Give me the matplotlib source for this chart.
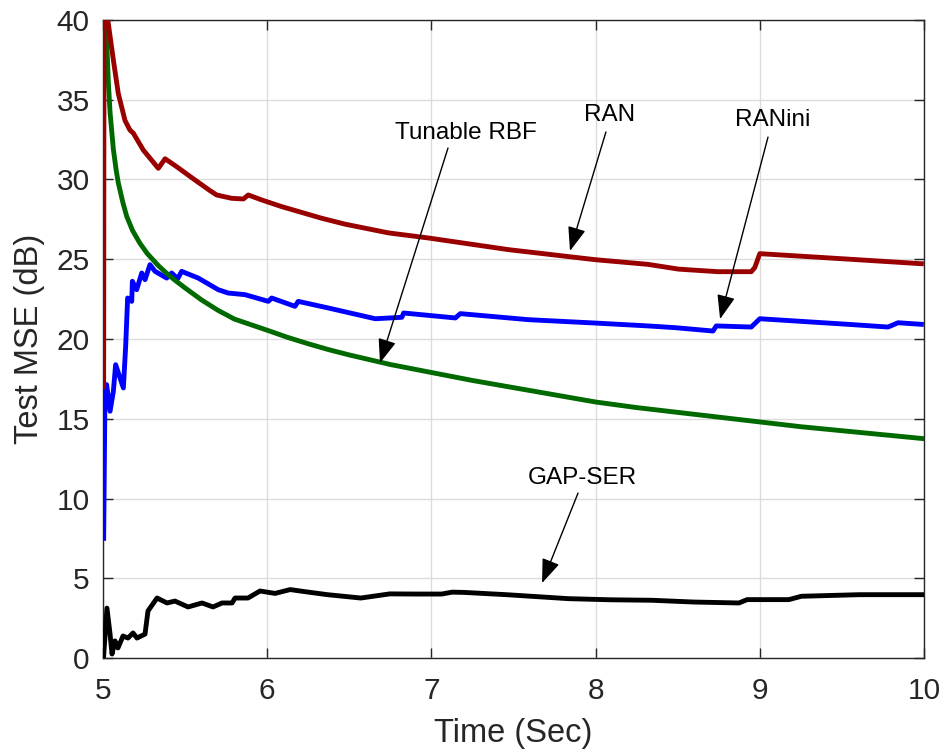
import matplotlib
matplotlib.use("Agg")
import matplotlib.pyplot as plt

plt.rcParams['font.family'] = ['Liberation Sans', 'DejaVu Sans']

# ---------------- data ----------------
ran_t = [5.004, 5.006, 5.02, 5.032, 5.063, 5.093, 5.134, 5.164, 5.185, 5.245, 5.337,
         5.378, 5.449, 5.56, 5.652, 5.692, 5.784, 5.855, 5.885, 5.966, 6.088, 6.332,
         6.474, 6.74, 6.984, 7.471, 8.0, 8.319, 8.506, 8.745, 8.948, 8.969, 9.0,
         9.395, 9.984]
ran_v = [17.0, 40.3, 40.3, 39.8, 37.5, 35.4, 33.7, 33.1, 32.9, 31.85, 30.7,
         31.3, 30.8, 29.97, 29.3, 29.03, 28.82, 28.78, 29.03, 28.72, 28.3, 27.57,
         27.2, 26.65, 26.33, 25.6, 24.97, 24.68, 24.38, 24.22, 24.22, 24.47, 25.35,
         25.1, 24.72]

rbf_t = [5.004, 5.015, 5.022, 5.032, 5.043, 5.063, 5.08, 5.093, 5.12, 5.144, 5.18,
         5.225, 5.27, 5.306, 5.337, 5.4, 5.449, 5.5, 5.6, 5.7, 5.8, 5.9, 6.0, 6.125,
         6.25, 6.375, 6.5, 6.625, 6.75, 6.875, 7.0, 7.25, 7.5, 7.75, 8.0, 8.25, 8.5,
         8.75, 9.0, 9.25, 9.5, 9.75, 10.0]
rbf_v = [40.5, 39.6, 38.9, 36.2, 34.2, 31.9, 30.6, 29.8, 28.6, 27.7, 26.8,
         26.0, 25.35, 24.95, 24.6, 24.0, 23.6, 23.2, 22.45, 21.8, 21.25, 20.9, 20.55, 20.1,
         19.7, 19.33, 19.0, 18.7, 18.4, 18.15, 17.9, 17.4, 16.95, 16.5, 16.05, 15.7, 15.4,
         15.1, 14.8, 14.5, 14.25, 14.0, 13.75]

ranini_t = [5.004, 5.012, 5.022, 5.043, 5.063, 5.077, 5.124, 5.138, 5.15, 5.175, 5.179,
            5.205, 5.236, 5.256, 5.286, 5.317, 5.388, 5.418, 5.455, 5.479, 5.58,
            5.702, 5.763, 5.865, 6.007, 6.027, 6.169, 6.189, 6.374, 6.658, 6.82,
            6.831, 7.146, 7.176, 7.593, 7.998, 8.319, 8.485, 8.715, 8.735, 8.948,
            9.0, 9.537, 9.781, 9.842, 9.984]
ranini_v = [7.5, 16.5, 17.14, 15.47, 16.72, 18.39, 16.93, 19.54, 22.57, 22.36, 23.62,
            23.09, 24.14, 23.72, 24.66, 24.24, 23.82, 24.14, 23.78, 24.24, 23.82,
            23.09, 22.88, 22.78, 22.36, 22.57, 22.05, 22.36, 21.94, 21.27, 21.36,
            21.63, 21.32, 21.59, 21.21, 21.0, 20.82, 20.71, 20.5, 20.82, 20.75,
            21.27, 20.92, 20.75, 21.02, 20.92]

gap_t = [5.003, 5.024, 5.043, 5.055, 5.073, 5.091, 5.122, 5.152, 5.183, 5.207, 5.256,
         5.274, 5.329, 5.39, 5.438, 5.518, 5.603, 5.67, 5.725, 5.786, 5.804, 5.883,
         5.956, 6.048, 6.14, 6.215, 6.367, 6.57, 6.747, 6.899, 7.063, 7.127, 7.202,
         7.456, 7.835, 8.088, 8.342, 8.594, 8.873, 8.923, 9.177, 9.253, 9.607, 9.987]
gap_v = [0.0, 3.13, 1.5, 0.25, 1.07, 0.63, 1.38, 1.25, 1.57, 1.25, 1.5,
         2.95, 3.76, 3.45, 3.57, 3.2, 3.45, 3.2, 3.45, 3.45, 3.76, 3.76,
         4.2, 4.05, 4.29, 4.18, 3.97, 3.76, 4.02, 4.01, 4.01, 4.13, 4.11,
         3.97, 3.72, 3.65, 3.62, 3.51, 3.45, 3.66, 3.66, 3.87, 3.97, 3.97]

x_ticks = [5, 6, 7, 8, 9, 10]
y_ticks = [0, 5, 10, 15, 20, 25, 30, 35, 40]

# annotations: label, text pos, arrow tail, arrow tip
ann_labels = ['Tunable RBF', 'RAN', 'RANini', 'GAP-SER']
ann_text = [(7.211, 32.92), (8.088, 34.04), (9.08, 33.73), (7.917, 11.29)]
ann_tail = [(7.101, 31.97), (8.063, 32.98), (9.05, 32.66), (7.893, 10.34)]
ann_tip = [(6.687, 18.5), (7.844, 25.52), (8.758, 21.25), (7.674, 4.70)]

# ---------------- figure ----------------
fig = plt.figure(figsize=(9.42, 7.51), dpi=100)
ax = fig.add_axes([103 / 942, 93 / 751, 821 / 942, 638 / 751])

lw = 3.5
ax.plot(gap_t, gap_v, color='black', lw=lw, solid_joinstyle='round', zorder=3)
ax.plot(ranini_t, ranini_v, color='#0000ff', lw=lw, solid_joinstyle='round', zorder=4)
ax.plot(rbf_t, rbf_v, color='#006a00', lw=lw, solid_joinstyle='round', zorder=5)
ax.plot(ran_t, ran_v, color='#990000', lw=lw, solid_joinstyle='round', zorder=6)

ax.set_xlim(5, 10)
ax.set_ylim(0, 40)
ax.set_xticks(x_ticks)
ax.set_yticks(y_ticks)
ax.set_xticklabels([str(v) for v in x_ticks])
ax.set_yticklabels([str(v) for v in y_ticks])

ax.grid(True, color='#dcdcdc', lw=1.0)
ax.set_axisbelow(True)
for s in ax.spines.values():
    s.set_color('#262626')
    s.set_linewidth(1.0)
ax.tick_params(direction='in', length=7, width=1.0, colors='#262626',
               labelsize=21.5, top=True, right=True)
ax.tick_params(axis='x', pad=14)
ax.tick_params(axis='y', pad=9.5)

ax.set_xlabel('Time (Sec)', fontsize=23.5, color='#262626', labelpad=9)
ax.set_ylabel('Test MSE (dB)', fontsize=23.5, color='#262626', labelpad=8)

for lab, tp, tl, tip in zip(ann_labels, ann_text, ann_tail, ann_tip):
    ax.text(tp[0], tp[1], lab, fontsize=17.5, ha='center', va='center',
            color='black', zorder=10)
    ax.annotate('', xy=tip, xytext=tl,
                arrowprops=dict(arrowstyle='-|>,head_length=0.85,head_width=0.32',
                                color='black', lw=1.0, shrinkA=0, shrinkB=0,
                                mutation_scale=17.5),
                zorder=10)

fig.savefig('out.png', dpi=100)
